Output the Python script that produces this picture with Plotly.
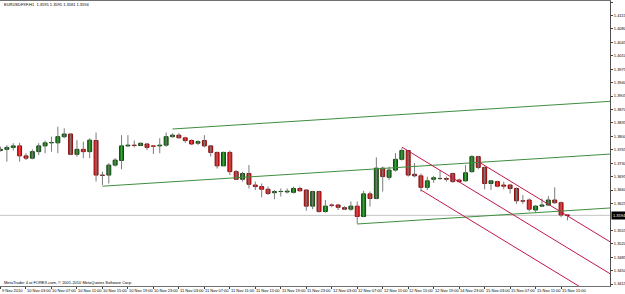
import plotly.graph_objects as go

# ---------------- data (EURUSDFXF, H1) ----------------
open_ = [1.3763, 1.3766, 1.3771, 1.3775, 1.3749, 1.3743, 1.3760, 1.3775, 1.3783, 1.3783,
         1.3799, 1.3806, 1.3753, 1.3766, 1.3760, 1.3789, 1.3699, 1.3699, 1.3725, 1.3737,
         1.3775, 1.3777, 1.3776, 1.3780, 1.3775, 1.3775, 1.3777, 1.3799, 1.3803, 1.3796,
         1.3789, 1.3782, 1.3789, 1.3775, 1.3758, 1.3723, 1.3758, 1.3708, 1.3688, 1.3703,
         1.3673, 1.3669, 1.3662, 1.3653, 1.3656, 1.3655, 1.3654, 1.3664, 1.3660, 1.3618,
         1.3656, 1.3604, 1.3621, 1.3621, 1.3614, 1.3610, 1.3618, 1.3591, 1.3650, 1.3638,
         1.3717, 1.3693, 1.3712, 1.3740, 1.3763, 1.3701, 1.3697, 1.3667, 1.3688, 1.3690,
         1.3690, 1.3703, 1.3686, 1.3684, 1.3708, 1.3747, 1.3719, 1.3677, 1.3682, 1.3673,
         1.3673, 1.3664, 1.3632, 1.3634, 1.3608, 1.3618, 1.3621, 1.3634, 1.3627, 1.3595]
high = [1.3773, 1.3777, 1.3782, 1.3783, 1.3756, 1.3766, 1.3782, 1.3789, 1.3799, 1.3825,
        1.3821, 1.3807, 1.3790, 1.3786, 1.3795, 1.3810, 1.3708, 1.3730, 1.3743, 1.3803,
        1.3803, 1.3789, 1.3783, 1.3782, 1.3777, 1.3795, 1.3810, 1.3808, 1.3808, 1.3799,
        1.3792, 1.3790, 1.3803, 1.3777, 1.3760, 1.3760, 1.3763, 1.3712, 1.3708, 1.3725,
        1.3682, 1.3677, 1.3669, 1.3660, 1.3664, 1.3664, 1.3669, 1.3669, 1.3662, 1.3658,
        1.3658, 1.3634, 1.3625, 1.3624, 1.3618, 1.3630, 1.3630, 1.3658, 1.3656, 1.3745,
        1.3721, 1.3721, 1.3756, 1.3769, 1.3764, 1.3730, 1.3703, 1.3695, 1.3697, 1.3712,
        1.3695, 1.3705, 1.3690, 1.3725, 1.3751, 1.3749, 1.3721, 1.3686, 1.3684, 1.3682,
        1.3676, 1.3667, 1.3647, 1.3638, 1.3621, 1.3638, 1.3644, 1.3667, 1.3630, 1.3595]
low = [1.3760, 1.3734, 1.3763, 1.3734, 1.3738, 1.3740, 1.3751, 1.3756, 1.3760, 1.3756,
       1.3795, 1.3751, 1.3747, 1.3743, 1.3743, 1.3682, 1.3673, 1.3677, 1.3721, 1.3714,
       1.3773, 1.3771, 1.3775, 1.3764, 1.3754, 1.3756, 1.3773, 1.3797, 1.3795, 1.3783,
       1.3777, 1.3777, 1.3771, 1.3747, 1.3716, 1.3723, 1.3699, 1.3686, 1.3682, 1.3664,
       1.3660, 1.3641, 1.3647, 1.3636, 1.3643, 1.3651, 1.3651, 1.3656, 1.3606, 1.3610,
       1.3601, 1.3601, 1.3615, 1.3608, 1.3608, 1.3606, 1.3572, 1.3589, 1.3617, 1.3636,
       1.3656, 1.3686, 1.3708, 1.3737, 1.3695, 1.3693, 1.3656, 1.3660, 1.3679, 1.3686,
       1.3682, 1.3679, 1.3679, 1.3682, 1.3705, 1.3714, 1.3662, 1.3660, 1.3667, 1.3662,
       1.3651, 1.3624, 1.3624, 1.3604, 1.3601, 1.3617, 1.3618, 1.3624, 1.3589, 1.3581]
close = [1.3766, 1.3771, 1.3775, 1.3749, 1.3743, 1.3760, 1.3775, 1.3783, 1.3784, 1.3799,
         1.3806, 1.3753, 1.3766, 1.3760, 1.3790, 1.3699, 1.3698, 1.3725, 1.3738, 1.3775,
         1.3777, 1.3776, 1.3782, 1.3771, 1.3774, 1.3777, 1.3799, 1.3803, 1.3796, 1.3789,
         1.3780, 1.3786, 1.3775, 1.3758, 1.3723, 1.3758, 1.3708, 1.3688, 1.3703, 1.3675,
         1.3669, 1.3662, 1.3651, 1.3656, 1.3656, 1.3657, 1.3664, 1.3658, 1.3618, 1.3656,
         1.3604, 1.3618, 1.3620, 1.3615, 1.3610, 1.3618, 1.3591, 1.3650, 1.3638, 1.3717,
         1.3695, 1.3712, 1.3740, 1.3763, 1.3699, 1.3697, 1.3667, 1.3684, 1.3692, 1.3690,
         1.3688, 1.3682, 1.3682, 1.3705, 1.3747, 1.3719, 1.3677, 1.3684, 1.3670, 1.3670,
         1.3664, 1.3632, 1.3631, 1.3610, 1.3618, 1.3621, 1.3634, 1.3627, 1.3595, 1.3594]

tick_labels = ["9 Nov 2010", "10 Nov 03:00", "10 Nov 07:00", "10 Nov 11:00", "10 Nov 15:00",
               "10 Nov 19:00", "10 Nov 23:00", "11 Nov 03:00", "11 Nov 07:00", "11 Nov 11:00",
               "11 Nov 15:00", "11 Nov 19:00", "11 Nov 23:00", "12 Nov 03:00", "12 Nov 07:00",
               "12 Nov 11:00", "12 Nov 15:00", "12 Nov 19:00", "14 Nov 23:00", "15 Nov 03:00",
               "15 Nov 07:00", "15 Nov 11:00", "15 Nov 15:00"]
tick_bars = [0, 4, 8, 12, 16, 20, 24, 28, 32, 36, 40, 44, 48, 52, 56, 60, 64, 68, 72, 76, 80, 84, 88]

price_ticks = [1.4150, 1.4115, 1.4080, 1.4045, 1.4010, 1.3975, 1.3940, 1.3905, 1.3870, 1.3835,
               1.3800, 1.3765, 1.3730, 1.3695, 1.3660, 1.3625, 1.3555, 1.3520, 1.3485,
               1.3450, 1.3415]

# trend-line objects: (bar1, price1, bar2, price2), drawn as rays to the right
green_lines = [(27, 1.3819, 89, 1.38841),
               (16, 1.3670, 89, 1.37467),
               (56, 1.35715, 89, 1.36062)]
red_lines = [(63, 1.3772, 89, 1.35094),
             (66, 1.3660, 89, 1.34277),
             (75, 1.3734, 89, 1.35926)]

symbol_title = "EURUSDFXF,H1  1.3595 1.3595 1.3581 1.3594"
copyright_txt = "MetaTrader 4 at FOREX.com, © 2001-2010 MetaQuotes Software Corp."

# ---------------- figure ----------------
n = len(close)
idx = list(range(n))
X_RANGE = [-0.08, 95.68]
Y_RANGE = [1.34099, 1.41526]

fig = go.Figure()

# price (bid) line
fig.add_shape(type="line", xref="paper", x0=0, x1=1, y0=close[-1], y1=close[-1],
              line=dict(color="#c4c4c4", width=1), layer="below")

# wicks
wx, wy = [], []
for i in idx:
    wx += [i, i, None]
    wy += [low[i], high[i], None]
fig.add_trace(go.Scatter(x=wx, y=wy, mode="lines", line=dict(color="#7a7a7a", width=1),
                         hoverinfo="skip", showlegend=False))

# bodies
up = [c >= o for o, c in zip(open_, close)]
fig.add_trace(go.Bar(
    x=idx,
    base=[min(o, c) for o, c in zip(open_, close)],
    y=[max(abs(c - o), 0.00002) for o, c in zip(open_, close)],
    width=0.62,
    marker=dict(color=["#1d7e1d" if u else "#e41c1f" for u in up],
                line=dict(color=["#0c4a0c" if u else "#8c0b0b" for u in up], width=1)),
    showlegend=False, hoverinfo="skip"))

def ray(b1, p1, b2, p2, xend=X_RANGE[1] + 5):
    s = (p2 - p1) / (b2 - b1)
    return [b1, xend], [p1, p1 + s * (xend - b1)]

for ln in green_lines:
    xs, ys = ray(*ln)
    fig.add_trace(go.Scatter(x=xs, y=ys, mode="lines", line=dict(color="#3d8f3d", width=1),
                             hoverinfo="skip", showlegend=False))
for ln in red_lines:
    xs, ys = ray(*ln)
    fig.add_trace(go.Scatter(x=xs, y=ys, mode="lines", line=dict(color="#c0184a", width=1),
                             hoverinfo="skip", showlegend=False))

FONT = dict(family="Liberation Sans, Arial, sans-serif", size=4, color="#000000")

fig.update_layout(
    width=625, height=294,
    margin=dict(l=0, r=15, t=1, b=8),
    paper_bgcolor="white", plot_bgcolor="white",
    showlegend=False, font=FONT,
    xaxis=dict(range=X_RANGE, tickvals=tick_bars, showticklabels=False,
               ticks="outside", ticklen=2, tickcolor="#404040", tickwidth=1,
               showgrid=False, zeroline=False, showline=True, linecolor="#707070",
               mirror=True, automargin=False, fixedrange=True),
    yaxis=dict(range=Y_RANGE, side="right", tickvals=price_ticks,
               ticktext=[f"{v:.4f}" for v in price_ticks],
               ticks="outside", ticklen=2, tickcolor="#404040", tickwidth=1,
               showgrid=False, zeroline=False, showline=True, linecolor="#505050",
               mirror=True, automargin=False, tickfont=FONT, fixedrange=True),
)

# time labels, placed to the right of each tick like MetaTrader does
for b, t in zip(tick_bars, tick_labels):
    fig.add_annotation(xref="x", yref="paper", x=b, y=0, xanchor="left", yanchor="top",
                       xshift=0, yshift=-1, text=t, showarrow=False, font=FONT, borderpad=0)

# current price marker on the axis
fig.add_annotation(xref="paper", yref="y", x=1, y=close[-1], xanchor="left", xshift=1,
                   text=f"{close[-1]:.4f}", showarrow=False, bgcolor="#000000",
                   font=dict(family=FONT["family"], size=4, color="#ffffff"), borderpad=1)
# symbol header
fig.add_annotation(xref="paper", yref="paper", x=0.004, y=0.986, xanchor="left", yanchor="middle",
                   text=symbol_title, showarrow=False, font=FONT)
# copyright
fig.add_annotation(xref="paper", yref="paper", x=0.003, y=0.012, xanchor="left", yanchor="middle",
                   text=copyright_txt, showarrow=False, font=FONT)

fig.write_html("out.html")
